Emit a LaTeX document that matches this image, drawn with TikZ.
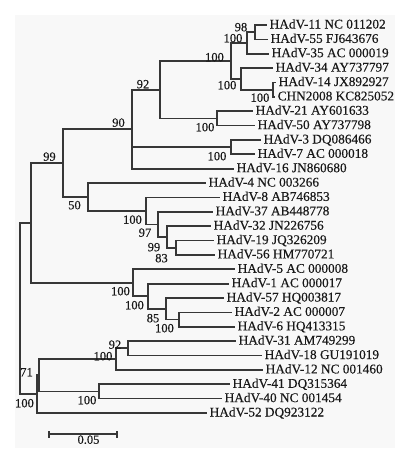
\documentclass[tikz,border=0pt]{standalone}
\usepackage{fontspec}
\setmainfont{Liberation Serif}[FakeBold=0.3]
\definecolor{linec}{RGB}{55,55,55}
\definecolor{textc}{RGB}{25,25,25}
\definecolor{bgc}{RGB}{248,248,248}
\begin{document}
\begin{tikzpicture}[x=1pt,y=-1pt,
  br/.style={draw=linec, line width=1.7pt},
  leaf/.style={anchor=west, inner xsep=2.5pt, inner ysep=0pt, text height=9pt, text depth=2pt,
    font=\fontsize{13.3}{15}\selectfont, text=textc},
  bs/.style={inner sep=0pt, text height=8.5pt, text depth=0pt,
    font=\fontsize{12.5}{14}\selectfont, text=textc}]
\useasboundingbox (0,0) rectangle (404,458);
\fill[bgc] (15,15) rectangle (395,448);

% leaves
\node[leaf] (l0) at (267,25.0) {HAdV-11 NC 011202};
\node[leaf] (l1) at (268,39.4) {HAdV-55 FJ643676};
\node[leaf] (l2) at (269,53.7) {HAdV-35 AC 000019};
\node[leaf] (l3) at (273,68.1) {HAdV-34 AY737797};
\node[leaf] (l4) at (276,82.5) {HAdV-14 JX892927};
\node[leaf] (l5) at (275,96.9) {CHN2008 KC825052};
\node[leaf] (l6) at (253,111.2) {HAdV-21 AY601633};
\node[leaf] (l7) at (255,125.6) {HAdV-50 AY737798};
\node[leaf] (l8) at (261,140.0) {HAdV-3 DQ086466};
\node[leaf] (l9) at (255,154.3) {HAdV-7 AC 000018};
\node[leaf] (l10) at (234,168.7) {HAdV-16 JN860680};
\node[leaf] (l11) at (206,183.1) {HAdV-4 NC 003266};
\node[leaf] (l12) at (220,197.4) {HAdV-8 AB746853};
\node[leaf] (l13) at (213,211.8) {HAdV-37 AB448778};
\node[leaf] (l14) at (211,226.2) {HAdV-32 JN226756};
\node[leaf] (l15) at (214,240.6) {HAdV-19 JQ326209};
\node[leaf] (l16) at (215,254.9) {HAdV-56 HM770721};
\node[leaf] (l17) at (235,269.3) {HAdV-5 AC 000008};
\node[leaf] (l18) at (229,283.7) {HAdV-1 AC 000017};
\node[leaf] (l19) at (224,298.0) {HAdV-57 HQ003817};
\node[leaf] (l20) at (232,312.4) {HAdV-2 AC 000007};
\node[leaf] (l21) at (235,326.8) {HAdV-6 HQ413315};
\node[leaf] (l22) at (236,341.1) {HAdV-31 AM749299};
\node[leaf] (l23) at (262,355.5) {HAdV-18 GU191019};
\node[leaf] (l24) at (263,369.9) {HAdV-12 NC 001460};
\node[leaf] (l25) at (230,384.3) {HAdV-41 DQ315364};
\node[leaf] (l26) at (222,398.6) {HAdV-40 NC 001454};
\node[leaf] (l27) at (207,413.0) {HAdV-52 DQ923122};

% internal nodes
\coordinate (nA) at (255,32.2);
\coordinate (nB) at (247,43.0);
\coordinate (nC) at (273,89.7);
\coordinate (nD) at (241,78.9);
\coordinate (nE) at (231,61.0);
\coordinate (nF) at (217,118.4);
\coordinate (nG) at (160,89.7);
\coordinate (nH) at (231,147.2);
\coordinate (nI) at (132,129.2);
\coordinate (n83) at (176,247.7);
\coordinate (n99b) at (167,237.0);
\coordinate (n97) at (158,224.4);
\coordinate (nJ) at (146,210.9);
\coordinate (n50) at (88,197.0);
\coordinate (n99) at (63,163.1);
\coordinate (nP) at (179,319.6);
\coordinate (n85) at (166,308.8);
\coordinate (nQ) at (148,296.3);
\coordinate (nR) at (133,282.8);
\coordinate (nK) at (31,223.0);
\coordinate (nS) at (128,348.3);
\coordinate (nT) at (116,359.1);
\coordinate (nU) at (99,391.5);
\coordinate (n71) at (39,375.3);
\coordinate (nL) at (37,394.2);
\coordinate (root) at (20,308.6);

% branches
\draw[br] (nA) |- (l0.west);
\draw[br] (nA) |- (l1.west);
\draw[br] (nB) |- (nA);
\draw[br] (nB) |- (l2.west);
\draw[br] (nC) |- (l4.west);
\draw[br] (nC) |- (l5.west);
\draw[br] (nD) |- (l3.west);
\draw[br] (nD) |- (nC);
\draw[br] (nE) |- (nB);
\draw[br] (nE) |- (nD);
\draw[br] (nF) |- (l6.west);
\draw[br] (nF) |- (l7.west);
\draw[br] (nG) |- (nE);
\draw[br] (nG) |- (nF);
\draw[br] (nH) |- (l8.west);
\draw[br] (nH) |- (l9.west);
\draw[br] (nI) |- (nG);
\draw[br] (nI) |- (nH);
\draw[br] (nI) |- (l10.west);
\draw[br] (n83) |- (l15.west);
\draw[br] (n83) |- (l16.west);
\draw[br] (n99b) |- (l14.west);
\draw[br] (n99b) |- (n83);
\draw[br] (n97) |- (l13.west);
\draw[br] (n97) |- (n99b);
\draw[br] (nJ) |- (l12.west);
\draw[br] (nJ) |- (n97);
\draw[br] (n50) |- (l11.west);
\draw[br] (n50) |- (nJ);
\draw[br] (n99) |- (nI);
\draw[br] (n99) |- (n50);
\draw[br] (nP) |- (l20.west);
\draw[br] (nP) |- (l21.west);
\draw[br] (n85) |- (l19.west);
\draw[br] (n85) |- (nP);
\draw[br] (nQ) |- (l18.west);
\draw[br] (nQ) |- (n85);
\draw[br] (nR) |- (l17.west);
\draw[br] (nR) |- (nQ);
\draw[br] (nK) |- (n99);
\draw[br] (nK) |- (nR);
\draw[br] (nS) |- (l22.west);
\draw[br] (nS) |- (l23.west);
\draw[br] (nT) |- (nS);
\draw[br] (nT) |- (l24.west);
\draw[br] (nU) |- (l25.west);
\draw[br] (nU) |- (l26.west);
\draw[br] (n71) |- (nT);
\draw[br] (n71) |- (nU);
\draw[br] (nL) |- (n71);
\draw[br] (nL) |- (l27.west);
\draw[br] (root) |- (nK);
\draw[br] (root) |- (nL);

% bootstrap values
\node[bs] (b1) at (241,27) {98};
\node[bs] (b2) at (233,38) {100};
\node[bs] (b3) at (214.5,57) {100};
\node[bs] (b4) at (227,85) {100};
\node[bs] (b5) at (260,97.5) {100};
\node[bs] (b6) at (143,84) {92};
\node[bs] (b7) at (205,127) {100};
\node[bs] (b8) at (118.5,122.5) {90};
\node[bs] (b9) at (217,156) {100};
\node[bs] (b10) at (49.5,156.5) {99};
\node[bs] (b11) at (74.5,205) {50};
\node[bs] (b12) at (132.5,219.5) {100};
\node[bs] (b13) at (145,232.5) {97};
\node[bs] (b14) at (154,247) {99};
\node[bs] (b15) at (161.5,258) {83};
\node[bs] (b16) at (120.5,291) {100};
\node[bs] (b17) at (134.5,305) {100};
\node[bs] (b18) at (153,318) {85};
\node[bs] (b19) at (164.5,328) {100};
\node[bs] (b20) at (115,344.5) {92};
\node[bs] (b21) at (103,356) {100};
\node[bs] (b22) at (26.5,372) {71};
\node[bs] (b23) at (87,400) {100};
\node[bs] (b24) at (24.5,403) {100};

% scale bar
\coordinate (sbL) at (49,434);
\coordinate (sbR) at (117,434);
\draw[br, line width=1.3pt] (sbL) -- (sbR);
\draw[br, line width=1.3pt] ([yshift=-3.5pt]sbL) -- ([yshift=3.5pt]sbL);
\draw[br, line width=1.3pt] ([yshift=-3.5pt]sbR) -- ([yshift=3.5pt]sbR);
\node[bs] (sbt) at (88.5,439.5) {0.05};
\end{tikzpicture}
\end{document}
